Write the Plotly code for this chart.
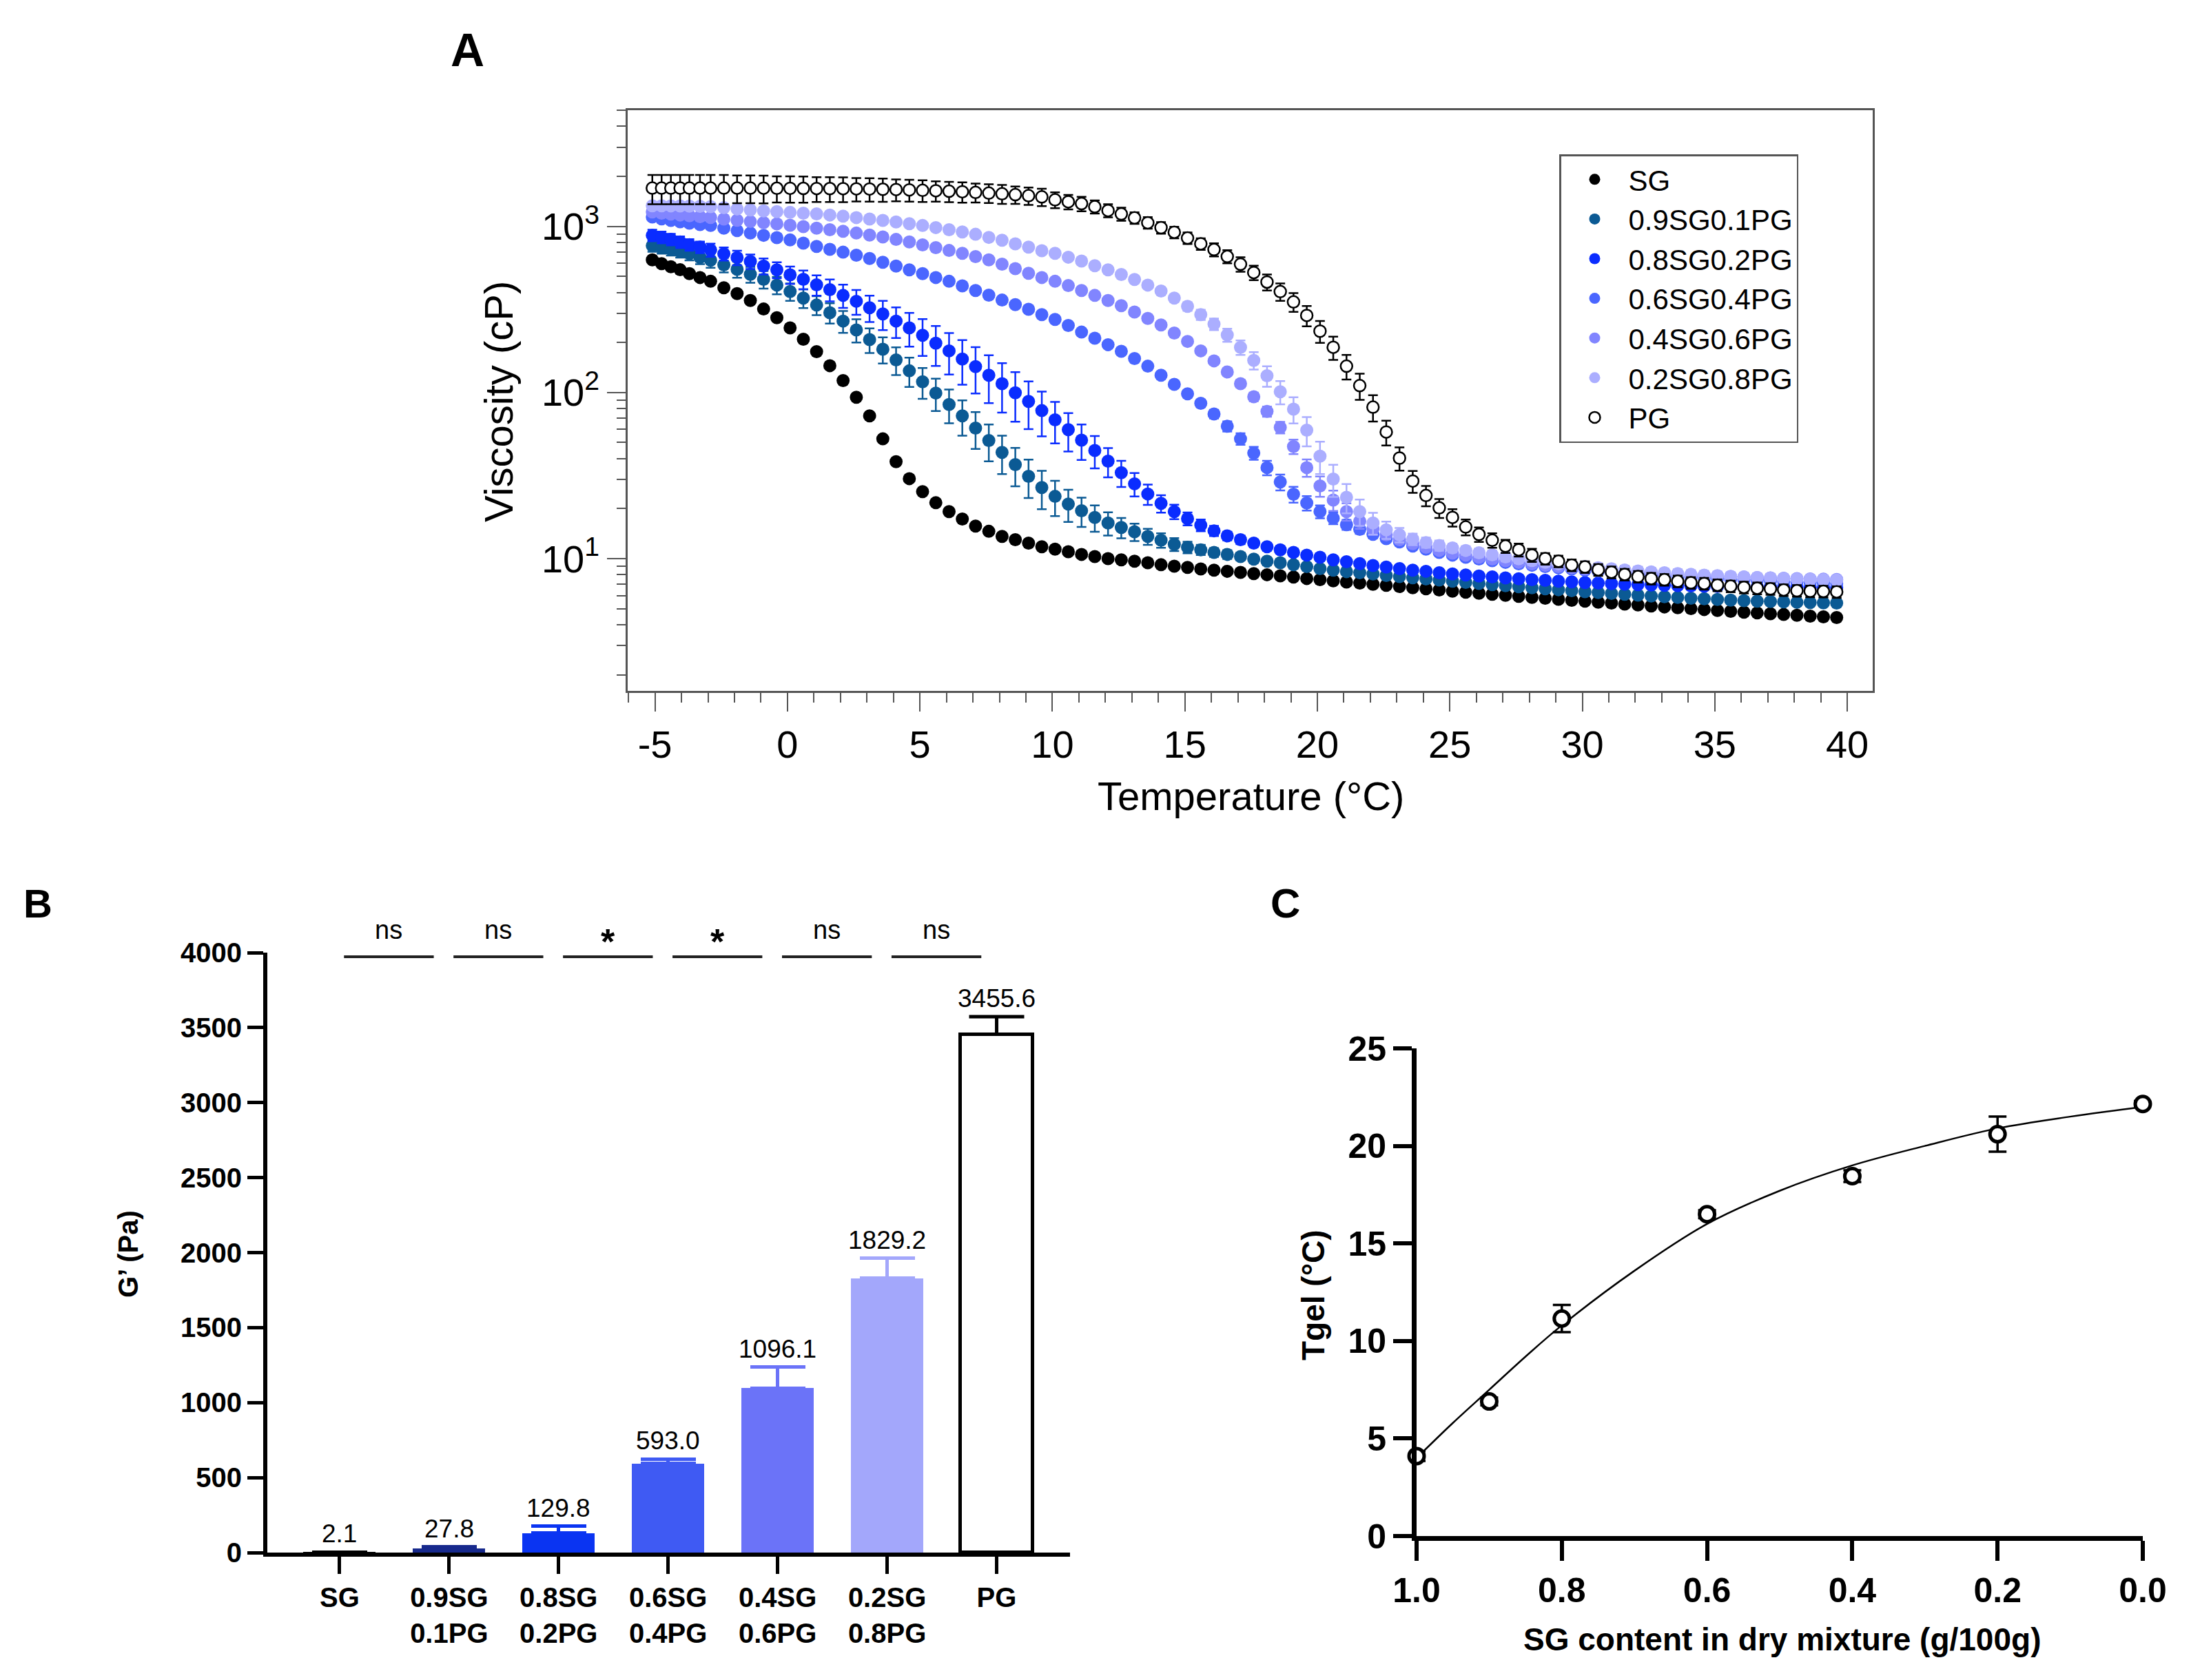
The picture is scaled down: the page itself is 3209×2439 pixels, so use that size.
import plotly.graph_objects as go

W, H = 3209, 2439
FONT = "Liberation Sans, Arial, Helvetica, sans-serif"


def px(x):
    return x / W


def py(y):
    return 1 - y / H


# ---------------- Panel A data ----------------
temperature = [-5.1, -4.75, -4.4, -4.05, -3.7, -3.3,
               -2.9, -2.4, -1.9, -1.4, -0.9, -0.4, 0.1, 0.6, 1.1, 1.6, 2.1, 2.6, 3.1, 3.6, 4.1, 4.6, 5.1, 5.6,
               6.1, 6.6, 7.1, 7.6, 8.1, 8.6, 9.1, 9.6,
               10.1, 10.6, 11.1, 11.6, 12.1, 12.6, 13.1, 13.6, 14.1, 14.6, 15.1, 15.6, 16.1, 16.6, 17.1, 17.6,
               18.1, 18.6, 19.1, 19.6, 20.1, 20.6, 21.1, 21.6, 22.1, 22.6, 23.1, 23.6, 24.1, 24.6, 25.1,
               25.6, 26.1, 26.6, 27.1, 27.6, 28.1, 28.6, 29.1, 29.6, 30.1, 30.6, 31.1, 31.6, 32.1, 32.6,
               33.1, 33.6, 34.1, 34.6, 35.1, 35.6, 36.1, 36.6, 37.1, 37.6, 38.1, 38.6, 39.1, 39.6]

visc_SG = [628, 596, 571, 548, 519, 492,
           467, 427, 394, 358, 318, 282, 245, 209, 176, 145, 118, 93.6, 72.3, 52.6, 38.3, 30.3, 25.3, 21.7,
           19.2, 17.3, 15.7, 14.6, 13.6, 13.0, 12.4, 11.8,
           11.4, 11.0, 10.6, 10.3, 10.0, 9.84, 9.64, 9.44, 9.19, 9.0, 8.85, 8.67, 8.53, 8.39, 8.26, 8.13,
           8.0, 7.87, 7.75, 7.59, 7.47, 7.35, 7.23, 7.12, 7.01, 6.9, 6.79, 6.68, 6.58, 6.48, 6.37,
           6.28, 6.19, 6.1, 6.01, 5.93, 5.85, 5.77, 5.69, 5.61, 5.54, 5.47, 5.4, 5.33, 5.26, 5.19,
           5.12, 5.06, 5.0, 4.94, 4.88, 4.82, 4.76, 4.71, 4.66, 4.61, 4.56, 4.51, 4.46, 4.42]

visc_09SG = [765, 745, 726, 705, 685, 650,
             625, 586, 551, 514, 480, 443, 405, 370, 336, 302, 269, 238, 208, 182, 157, 135, 116, 99.2,
             84.7, 72.3, 61, 51.4, 43.6, 36.8, 31.3, 26.8,
             23.7, 21.3, 19.4, 17.7, 16.4, 15.4, 14.5, 13.6, 12.9, 12.2, 11.7, 11.3, 10.9, 10.6, 10.3, 9.93,
             9.64, 9.44, 9.19, 8.95, 8.71, 8.53, 8.35, 8.22, 8.09, 7.92, 7.80, 7.67, 7.55, 7.43, 7.31,
             7.2, 7.09, 6.98, 6.88, 6.78, 6.68, 6.59, 6.5, 6.41, 6.33, 6.25, 6.17, 6.1, 6.03, 5.96,
             5.9, 5.84, 5.78, 5.73, 5.68, 5.63, 5.59, 5.55, 5.52, 5.49, 5.46, 5.44, 5.42, 5.4]

visc_08SG = [883, 860, 835, 805, 775, 750,
             721, 684, 649, 615, 577, 547, 511, 480, 445, 416, 384, 354, 324, 297, 269, 245, 221, 198,
             178, 159, 143, 127, 113, 99.6, 88.4, 77.8,
             68.5, 59.7, 51.7, 44.8, 38.6, 32.9, 28.2, 24.5, 21.5, 19.2, 17.4, 15.9, 14.7, 13.7, 13.0, 12.4,
             11.8, 11.3, 10.9, 10.5, 10.2, 9.84, 9.58, 9.33, 9.09, 8.9, 8.71, 8.53, 8.39, 8.22, 8.09,
             7.97, 7.86, 7.76, 7.66, 7.57, 7.48, 7.4, 7.32, 7.25, 7.18, 7.12, 7.07, 7.02, 6.98, 6.94,
             6.91, 6.88, 6.85, 6.83, 6.81, 6.79, 6.77, 6.76, 6.75, 6.74, 6.73, 6.72, 6.71, 6.7]

visc_06SG = [1138, 1110, 1085, 1065, 1045, 1025,
             1012, 975, 942, 911, 883, 855, 828, 792, 757, 727, 699, 670, 641, 608, 577, 547, 519, 492,
             467, 438, 411, 385, 360, 338, 317, 294,
             275, 253, 231, 212, 194, 177, 160, 144, 127, 112, 98.2, 86.1, 74.2, 62.6, 52.6, 43.2,
             35.3, 28.9, 24.4, 21.6, 19.2, 17.5, 16.0, 15.0, 14.0, 13.2, 12.6, 11.9, 11.4, 10.9, 10.5,
             10.2, 9.95, 9.72, 9.5, 9.3, 9.12, 8.95, 8.8, 8.66, 8.53, 8.41, 8.3, 8.2, 8.1, 8.0,
             7.91, 7.83, 7.75, 7.68, 7.61, 7.54, 7.48, 7.42, 7.36, 7.3, 7.25, 7.2, 7.15, 7.1]

visc_04SG = [1220, 1200, 1185, 1170, 1158, 1145,
             1130, 1107, 1088, 1069, 1052, 1035, 1015, 996, 975, 955, 933, 911, 887, 864, 834, 805, 774, 744,
             716, 688, 658, 629, 592, 556, 522, 492,
             467, 440, 411, 384, 358, 333, 305, 279, 255, 228, 203, 178, 155, 133, 113, 94.2,
             76.9, 61.6, 47.3, 35.3, 27.4, 22.5, 19.2, 16.8, 15.1, 13.9, 13.0, 12.3, 11.7, 11.2, 10.8,
             10.5, 10.2, 9.95, 9.72, 9.5, 9.3, 9.12, 8.96, 8.82, 8.69, 8.57, 8.46, 8.36, 8.27, 8.19,
             8.11, 8.04, 7.97, 7.91, 7.85, 7.8, 7.75, 7.7, 7.66, 7.62, 7.58, 7.55, 7.52, 7.5]

visc_02SG = [1330, 1330, 1328, 1326, 1324, 1320,
             1315, 1295, 1272, 1255, 1238, 1225, 1213, 1200, 1188, 1170, 1151, 1129, 1107, 1085, 1062, 1037, 1012, 983,
             955, 925, 896, 858, 825, 785, 750, 713,
             688, 652, 618, 580, 547, 513, 479, 443, 408, 370, 330, 294, 258, 222, 187, 156,
             126, 101, 79.4, 59.3, 41.4, 30.1, 23.4, 19.2, 16.4, 14.9, 13.9, 13.1, 12.5, 12.0, 11.6,
             11.2, 10.85, 10.55, 10.25, 9.98, 9.74, 9.52, 9.32, 9.14, 8.97, 8.82, 8.68, 8.55, 8.43, 8.32,
             8.22, 8.13, 8.04, 7.96, 7.89, 7.82, 7.76, 7.7, 7.65, 7.6, 7.55, 7.51, 7.47, 7.43]

visc_PG = [1700, 1700, 1700, 1700, 1700, 1700,
           1700, 1700, 1700, 1700, 1698, 1696, 1694, 1692, 1690, 1688, 1685, 1682, 1678, 1672, 1665, 1657, 1648, 1638,
           1627, 1615, 1601, 1586, 1570, 1552, 1530, 1505,
           1444, 1406, 1370, 1313, 1245, 1188, 1125, 1051, 982, 921, 850, 785, 725, 659, 592, 527,
           462, 405, 351, 291, 234, 187, 144, 110, 81.6, 57.8, 40.3, 29.3, 24.0, 20.2, 17.7,
           15.5, 14.0, 12.9, 11.9, 11.3, 10.5, 10.0, 9.64, 9.14, 8.91, 8.57, 8.29, 8.03, 7.80, 7.59,
           7.47, 7.31, 7.16, 7.08, 6.93, 6.82, 6.72, 6.64, 6.58, 6.48, 6.41, 6.37, 6.35, 6.31]

# relative SD (%) of each point
sd_pct_09SG = [8, 8, 8, 8, 9, 9,
               10, 10, 11, 11, 12, 12, 12, 13, 13, 14, 15, 16, 17, 18, 19, 20, 21, 22, 23, 24, 25, 25, 26, 26, 26, 26,
               24, 22, 20, 18, 16, 14, 12, 11, 10, 9, 8, 7, 6, 6, 5, 5, 5, 5, 5, 5, 4, 4, 4, 4, 4, 4, 4, 4, 4, 4, 4,
               4, 4, 4, 4, 4, 4, 4, 4, 4, 4, 4, 4, 4, 4, 4, 4, 4, 4, 4, 4, 4, 4, 4, 4, 4, 4, 4, 4, 4]
sd_pct_08SG = [8, 8, 8, 8, 8, 8,
               9, 9, 10, 10, 11, 11, 12, 13, 14, 15, 16, 17, 18, 20, 21, 23, 25, 27, 28, 30, 31, 32, 33, 33, 32, 30,
               28, 26, 24, 22, 20, 18, 16, 14, 12, 10, 9, 8, 7, 6, 6, 5, 5, 5, 5, 5, 5, 5, 4, 4, 4, 4, 4, 4, 4, 4, 4,
               4, 4, 4, 4, 4, 4, 4, 4, 4, 4, 4, 4, 4, 4, 4, 4, 4, 4, 4, 4, 4, 4, 4, 4, 4, 4, 4, 4, 4]
sd_pct_06SG = [3, 3, 3, 3, 3, 3,
               3, 3, 3, 3, 3, 3, 3, 3, 3, 3, 3, 3, 3, 3, 3, 3, 3, 3, 3, 3, 3, 3, 3, 3, 3, 3,
               3, 3, 3, 3, 3, 3, 3, 3, 3, 3, 4, 5, 6, 7, 8, 9, 10, 11, 11, 10, 9, 8, 7, 6, 5, 4, 4, 3, 3, 3, 3,
               3, 3, 3, 3, 3, 3, 3, 3, 3, 3, 3, 3, 3, 3, 3, 3, 3, 3, 3, 3, 3, 3, 3, 3, 3, 3, 3, 3, 3]
sd_pct_04SG = [3, 3, 3, 3, 3, 3,
               3, 3, 3, 3, 3, 3, 3, 3, 3, 3, 3, 3, 3, 3, 3, 3, 3, 3, 3, 3, 3, 3, 3, 3, 3, 3,
               3, 3, 3, 3, 3, 3, 3, 3, 3, 3, 3, 3, 3, 4, 5, 6, 7, 8, 10, 12, 14, 14, 12, 10, 8, 6, 5, 4, 4, 4, 4,
               4, 4, 4, 4, 4, 4, 4, 4, 4, 4, 4, 4, 4, 4, 4, 4, 4, 4, 4, 4, 4, 4, 4, 4, 4, 4, 4, 4, 4]
sd_pct_02SG = [4, 4, 4, 4, 4, 4,
               4, 4, 4, 4, 4, 4, 4, 4, 4, 4, 4, 4, 4, 4, 4, 4, 4, 4, 4, 4, 4, 4, 4, 4, 4, 4,
               4, 4, 4, 4, 4, 4, 4, 4, 4, 5, 6, 7, 8, 9, 10, 12, 14, 16, 18, 20, 22, 22, 20, 18, 15, 12, 10, 8, 7, 7, 6,
               6, 6, 6, 6, 6, 6, 6, 6, 6, 6, 6, 6, 6, 6, 6, 6, 6, 6, 6, 6, 6, 6, 6, 6, 6, 6, 6, 6, 6]
sd_pct_PG = [20, 20, 20, 20, 20, 20,
             20, 20, 19, 19, 19, 18, 18, 18, 17, 17, 17, 16, 16, 16, 15, 15, 15, 14, 14, 14, 13, 13, 13, 12, 12, 12,
             11, 10, 10, 9, 9, 9, 8, 8, 8, 8, 8, 8, 9, 9, 10, 10, 11, 12, 13, 14, 15, 16, 17, 18, 18, 17, 16, 15, 14, 13, 12,
             11, 10, 10, 9, 9, 9, 8, 8, 8, 8, 8, 8, 8, 8, 8, 8, 8, 8, 8, 8, 8, 8, 8, 8, 8, 8, 8, 8, 8]

series_names = ["SG", "0.9SG0.1PG", "0.8SG0.2PG", "0.6SG0.4PG", "0.4SG0.6PG", "0.2SG0.8PG", "PG"]
series_values = [visc_SG, visc_09SG, visc_08SG, visc_06SG, visc_04SG, visc_02SG, visc_PG]
series_sd_pct = [None, sd_pct_09SG, sd_pct_08SG, sd_pct_06SG, sd_pct_04SG, sd_pct_02SG, sd_pct_PG]
series_colors = ["#000000", "#0b5a94", "#0a2cff", "#4a66ff", "#8185ff", "#abaeff", "#ffffff"]

# ---------------- Panel B data ----------------
bar_labels = ["SG", "0.9SG<br>0.1PG", "0.8SG<br>0.2PG", "0.6SG<br>0.4PG", "0.4SG<br>0.6PG", "0.2SG<br>0.8PG", "PG"]
g_prime = [2.1, 27.8, 129.8, 593.0, 1096.1, 1829.2, 3455.6]
g_prime_sd = [1.0, 9.0, 46.0, 31.0, 141.0, 132.0, 117.0]
bar_colors = ["#000000", "#17298c", "#0a34f2", "#3f5af3", "#6b73f8", "#a3a7fb", "#ffffff"]
sig_labels = ["ns", "ns", "*", "*", "ns", "ns"]

# ---------------- Panel C data ----------------
sg_content = [1.0, 0.9, 0.8, 0.6, 0.4, 0.2, 0.0]
tgel = [4.1, 6.9, 11.15, 16.5, 18.45, 20.6, 22.15]
tgel_sd = [0.25, 0.2, 0.7, 0.2, 0.3, 0.9, 0.15]
fit_x = [1.0, 0.95, 0.9, 0.85, 0.8, 0.7, 0.6, 0.5, 0.4, 0.3, 0.2, 0.1, 0.0]
fit_y = [4.0, 5.8, 7.5, 9.2, 10.8, 13.6, 16.0, 17.7, 19.0, 20.0, 20.9, 21.5, 22.0]

fig = go.Figure()

# Panel A traces
for name, vals, pct, col in zip(series_names, series_values, series_sd_pct, series_colors):
    is_pg = name == "PG"
    err = None
    if pct is not None:
        err = dict(type="data", array=[v * p / 100.0 for v, p in zip(vals, pct)],
                   color="#000000" if is_pg else col, thickness=2.5, width=7)
    fig.add_trace(go.Scatter(
        x=temperature, y=vals, mode="markers", name=name,
        marker=dict(size=17 if is_pg else 19, color=col,
                    line=dict(color="#000000", width=2.5) if is_pg else dict(width=0)),
        error_y=err, xaxis="x", yaxis="y", showlegend=True,
    ))

# Panel B bars
for lab, v, sd, col in zip(bar_labels, g_prime, g_prime_sd, bar_colors):
    is_pg = lab == "PG"
    fig.add_trace(go.Bar(
        x=[lab], y=[v], width=0.66,
        marker=dict(color=col, line=dict(color="#000000" if is_pg else col, width=5 if is_pg else 0)),
        error_y=dict(type="data", array=[sd], arrayminus=[0], color="#000000" if is_pg else col,
                     thickness=5, width=40),
        xaxis="x2", yaxis="y2", showlegend=False,
    ))

# Panel C
fig.add_trace(go.Scatter(x=fit_x, y=fit_y, mode="lines", line=dict(color="#000000", width=2.5, shape="spline"),
                         xaxis="x3", yaxis="y3", showlegend=False, cliponaxis=False))
fig.add_trace(go.Scatter(x=sg_content, y=tgel, mode="markers",
                         marker=dict(size=22, color="#ffffff", line=dict(color="#000000", width=5)),
                         error_y=dict(type="data", array=tgel_sd, color="#000000", thickness=3.5, width=13),
                         xaxis="x3", yaxis="y3", showlegend=False, cliponaxis=False))

gray = "#555555"
annotations = []
shapes = []

fig.update_layout(
    xaxis=dict(domain=[px(911), px(2718)], range=[-6.03, 40.96], anchor="y",
               tickvals=[-5, 0, 5, 10, 15, 20, 25, 30, 35, 40],
               ticktext=["-5", "0", "5", "10", "15", "20", "25", "30", "35", "40"],
               ticks="outside", ticklen=27, tickwidth=2, tickcolor=gray,
               minor=dict(tickmode="array", tickvals=[t for t in range(-6, 42) if t % 5 != 0],
                          ticks="outside", ticklen=14, tickwidth=2, tickcolor=gray),
               showline=True, linecolor=gray, linewidth=2.5, mirror=True,
               showgrid=False, zeroline=False, automargin=False,
               tickfont=dict(family=FONT, size=56, color="#000000")),
    yaxis=dict(domain=[py(1003), py(160)], type="log", range=[0.204, 3.699], anchor="x",
               tickvals=[10, 100, 1000],
               ticktext=["10<sup>1</sup>", "10<sup>2</sup>", "10<sup>3</sup>"],
               ticks="outside", ticklen=27, tickwidth=2, tickcolor=gray,
               minor=dict(tickmode="array",
                          tickvals=[2, 3, 4, 5, 6, 7, 8, 9, 20, 30, 40, 50, 60, 70, 80, 90,
                                    200, 300, 400, 500, 600, 700, 800, 900, 2000, 3000, 4000, 5000],
                          ticks="outside", ticklen=13, tickwidth=2, tickcolor=gray),
               showline=True, linecolor=gray, linewidth=2.5, mirror=True,
               showgrid=False, zeroline=False, automargin=False,
               tickfont=dict(family=FONT, size=56, color="#000000")),
    xaxis2=dict(domain=[px(388), px(1553)], range=[-0.66, 6.67], anchor="y2", type="category",
                ticks="outside", ticklen=25, tickwidth=5, tickcolor="#000000",
                showline=True, linecolor="#000000", linewidth=6, showgrid=False, zeroline=False,
                automargin=False,
                tickfont=dict(family=FONT, size=40, color="#000000", weight="bold")),
    yaxis2=dict(domain=[py(2254), py(1383)], range=[0, 4000], anchor="x2", dtick=500,
                ticks="outside", ticklen=23, tickwidth=5, tickcolor="#000000",
                showline=True, linecolor="#000000", linewidth=6, showgrid=False, zeroline=False,
                automargin=False,
                tickfont=dict(family=FONT, size=40, color="#000000", weight="bold")),
    xaxis3=dict(domain=[px(2056), px(3110)], range=[1.0, 0.0], anchor="y3",
                tickvals=[1.0, 0.8, 0.6, 0.4, 0.2, 0.0], ticktext=["1.0", "0.8", "0.6", "0.4", "0.2", "0.0"],
                ticks="outside", ticklen=29, tickwidth=6, tickcolor="#000000",
                showline=True, linecolor="#000000", linewidth=7, showgrid=False, zeroline=False,
                automargin=False,
                tickfont=dict(family=FONT, size=50, color="#000000", weight="bold")),
    yaxis3=dict(domain=[py(2230), py(1522)], range=[0, 25], anchor="x3", dtick=5,
                ticks="outside", ticklen=27, tickwidth=6, tickcolor="#000000",
                showline=True, linecolor="#000000", linewidth=7, showgrid=False, zeroline=False,
                automargin=False,
                tickfont=dict(family=FONT, size=50, color="#000000", weight="bold")),
)

# Panel B: value labels above the error bars
for lab, v, sd in zip(bar_labels, g_prime, g_prime_sd):
    annotations.append(dict(x=lab, y=v + sd, xref="x2", yref="y2", text=f"{v:.1f}", showarrow=False,
                            yanchor="bottom", yshift=4, font=dict(family=FONT, size=37, color="#000000")))

# Panel B: significance between neighbouring groups
Y2_TOP = 4000.0
for i, s in enumerate(sig_labels):
    shapes.append(dict(type="line", xref="x2", yref="y2", x0=i + 0.04, x1=i + 0.86, y0=3973, y1=3973,
                       line=dict(color="#222222", width=4)))
    if s == "*":
        annotations.append(dict(x=i + 0.45, y=4075 / Y2_TOP, xref="x2", yref="y2 domain", text="<b>*</b>",
                                showarrow=False, yanchor="middle",
                                font=dict(family=FONT, size=52, color="#000000")))
    else:
        annotations.append(dict(x=i + 0.45, y=4150 / Y2_TOP, xref="x2", yref="y2 domain", text=s,
                                showarrow=False, yanchor="middle",
                                font=dict(family=FONT, size=38, color="#000000")))


def add_text(text, x, y, size, bold=False, angle=0):
    annotations.append(dict(x=px(x), y=py(y), xref="paper", yref="paper", showarrow=False,
                            text=f"<b>{text}</b>" if bold else text, textangle=angle,
                            xanchor="center", yanchor="middle",
                            font=dict(family=FONT, size=size, color="#000000")))


add_text("A", 678, 72, 68, bold=True)
add_text("B", 55, 1311, 58, bold=True)
add_text("C", 1865, 1311, 60, bold=True)
add_text("Viscosity (cP)", 723, 583, 58, angle=-90)
add_text("Temperature (°C)", 1815, 1155, 58)
add_text("G’ (Pa)", 186, 1821, 40, bold=True, angle=-90)
add_text("Tgel (°C)", 1906, 1880, 46, bold=True, angle=-90)
add_text("SG content in dry mixture (g/100g)", 2586, 2380, 46, bold=True)

fig.update_layout(
    width=W, height=H, margin=dict(l=0, r=0, t=0, b=0, pad=0), autosize=False,
    paper_bgcolor="#ffffff", plot_bgcolor="#ffffff",
    annotations=annotations, shapes=shapes,
    bargap=0,
    legend=dict(x=px(2263), y=py(224), xanchor="left", yanchor="top",
                bgcolor="#ffffff", bordercolor=gray, borderwidth=2.5,
                font=dict(family=FONT, size=42, color="#000000"),
                itemwidth=88, tracegroupgap=0),
    showlegend=True,
)

fig.write_html("out.html")
